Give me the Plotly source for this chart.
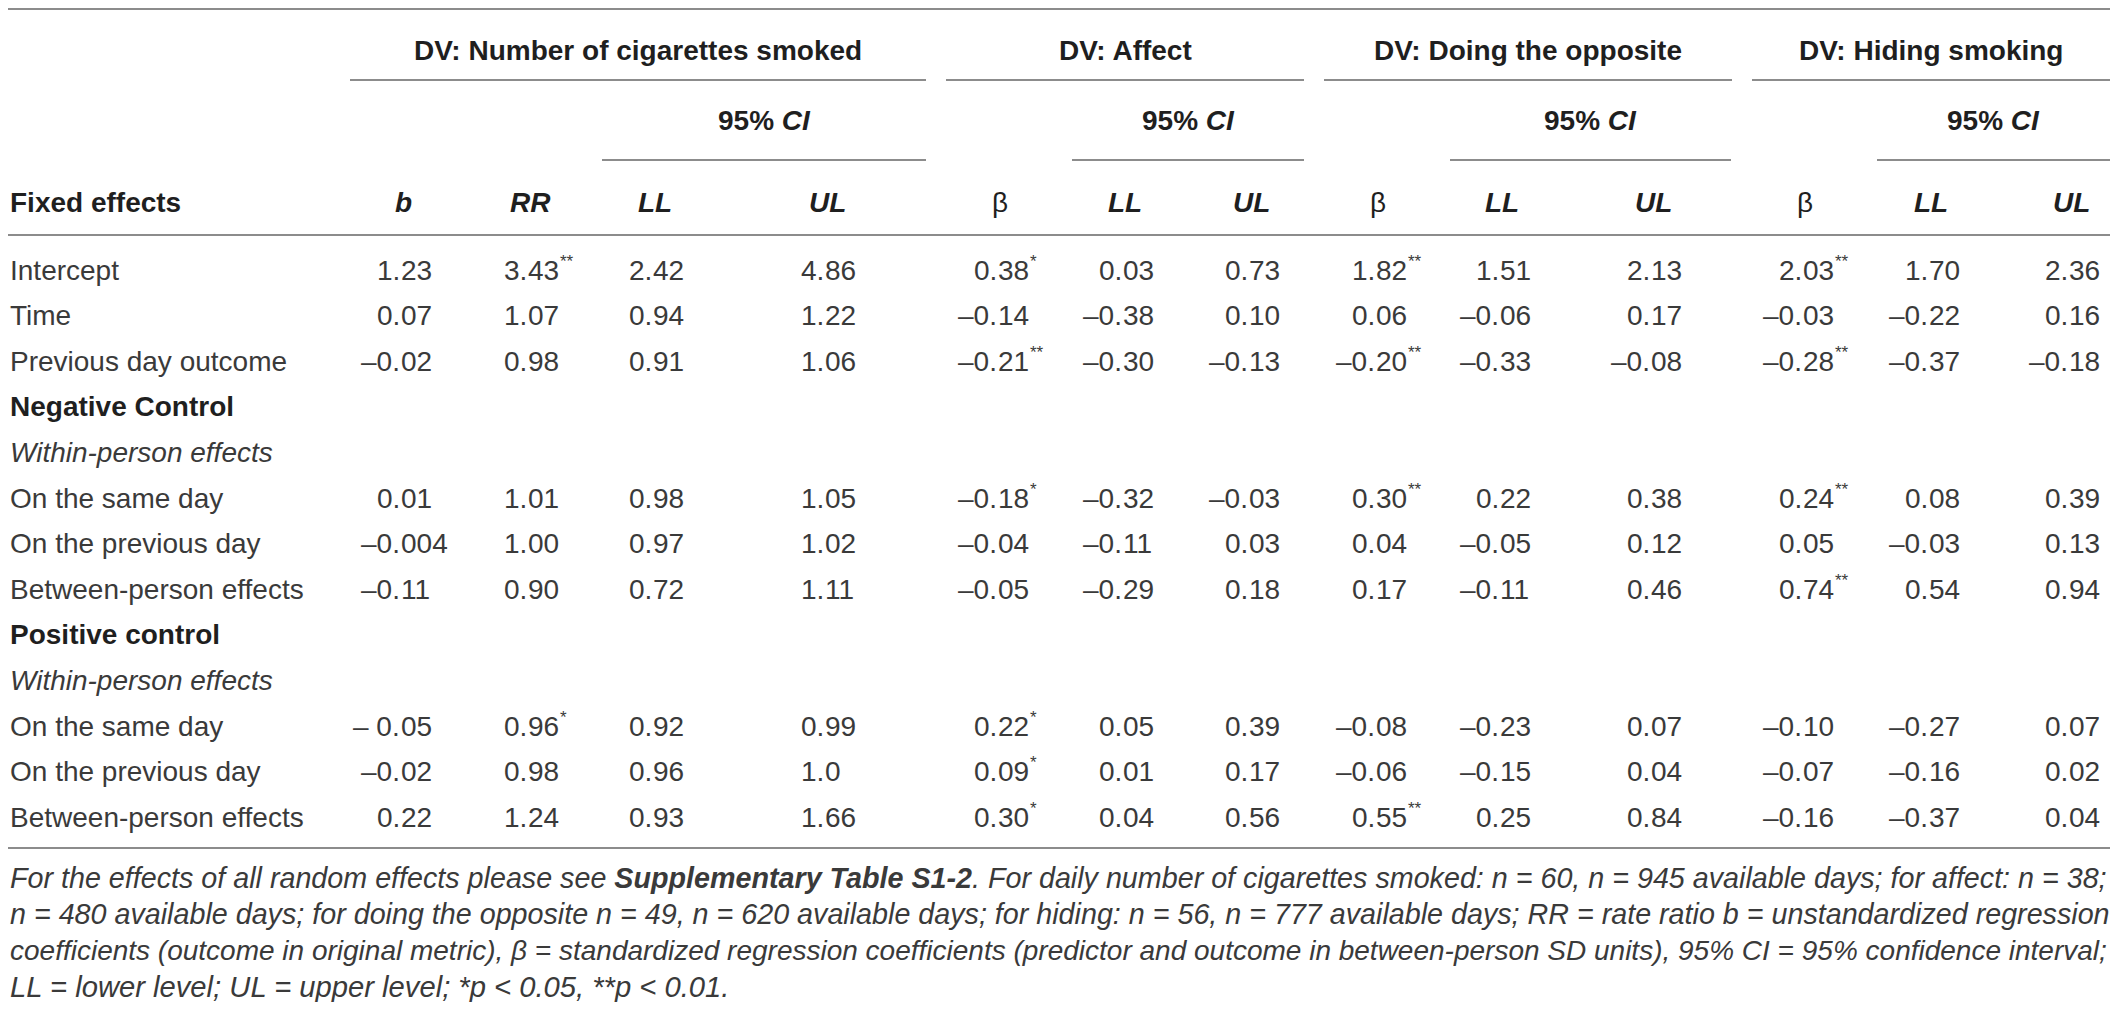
import plotly.graph_objects as go

# table content
dv_titles = ["DV: Number of cigarettes smoked", "DV: Affect",
             "DV: Doing the opposite", "DV: Hiding smoking"]
col_heads = ["b", "RR", "LL", "UL", "β", "LL", "UL", "β", "LL", "UL", "β", "LL", "UL"]
col_italic = [True, True, True, True, False, True, True, False, True, True, False, True, True]

row_labels = ["Intercept", "Time", "Previous day outcome",
              "Negative Control", "Within-person effects",
              "On the same day", "On the previous day", "Between-person effects",
              "Positive control", "Within-person effects",
              "On the same day", "On the previous day", "Between-person effects"]
row_styles = ["plain", "plain", "plain", "bold", "italic", "plain", "plain", "plain",
              "bold", "italic", "plain", "plain", "plain"]

_ = None
cig_b = ["1.23", "0.07", "–0.02", _, _, "0.01", "–0.004", "–0.11", _, _, "– 0.05", "–0.02", "0.22"]
cig_rr = ["3.43**", "1.07", "0.98", _, _, "1.01", "1.00", "0.90", _, _, "0.96*", "0.98", "1.24"]
cig_ll = ["2.42", "0.94", "0.91", _, _, "0.98", "0.97", "0.72", _, _, "0.92", "0.96", "0.93"]
cig_ul = ["4.86", "1.22", "1.06", _, _, "1.05", "1.02", "1.11", _, _, "0.99", "1.0", "1.66"]
aff_beta = ["0.38*", "–0.14", "–0.21**", _, _, "–0.18*", "–0.04", "–0.05", _, _, "0.22*", "0.09*", "0.30*"]
aff_ll = ["0.03", "–0.38", "–0.30", _, _, "–0.32", "–0.11", "–0.29", _, _, "0.05", "0.01", "0.04"]
aff_ul = ["0.73", "0.10", "–0.13", _, _, "–0.03", "0.03", "0.18", _, _, "0.39", "0.17", "0.56"]
opp_beta = ["1.82**", "0.06", "–0.20**", _, _, "0.30**", "0.04", "0.17", _, _, "–0.08", "–0.06", "0.55**"]
opp_ll = ["1.51", "–0.06", "–0.33", _, _, "0.22", "–0.05", "–0.11", _, _, "–0.23", "–0.15", "0.25"]
opp_ul = ["2.13", "0.17", "–0.08", _, _, "0.38", "0.12", "0.46", _, _, "0.07", "0.04", "0.84"]
hid_beta = ["2.03**", "–0.03", "–0.28**", _, _, "0.24**", "0.05", "0.74**", _, _, "–0.10", "–0.07", "–0.16"]
hid_ll = ["1.70", "–0.22", "–0.37", _, _, "0.08", "–0.03", "0.54", _, _, "–0.27", "–0.16", "–0.37"]
hid_ul = ["2.36", "0.16", "–0.18", _, _, "0.39", "0.13", "0.94", _, _, "0.07", "0.02", "0.04"]

columns = [cig_b, cig_rr, cig_ll, cig_ul, aff_beta, aff_ll, aff_ul,
           opp_beta, opp_ll, opp_ul, hid_beta, hid_ll, hid_ul]

notes = [
    "For the effects of all random effects please see <b>Supplementary Table S1-2</b>. "
    "For daily number of cigarettes smoked: n = 60, n = 945 available days; for affect: n = 38;",
    "n = 480 available days; for doing the opposite n = 49, n = 620 available days; "
    "for hiding: n = 56, n = 777 available days; RR = rate ratio b = unstandardized regression",
    "coefficients (outcome in original metric), β = standardized regression coefficients "
    "(predictor and outcome in between-person SD units), 95% CI = 95% confidence interval;",
    "LL = lower level; UL = upper level; *p < 0.05, **p < 0.01.",
]

# layout: axes map 1:1 onto page pixels (page body has an 8px margin)
PAGE_W, PAGE_H, BODY = 2118, 1010, 8
FONT = "Liberation Sans, Arial, sans-serif"
INK = "#3a3a3a"
BOLD_INK = "#1f1f1f"
RULE = "#8c8c8c"
SIZE = 28
DIGIT = 15.6
COL_END = [431, 558, 683, 855, 1028, 1153, 1279, 1406, 1530, 1681, 1833, 1959, 2099]
GROUP_SPAN = [(350, 926), (946, 1304), (1324, 1732), (1752, 2110)]
CI_SPAN = [(602, 926), (1072, 1304), (1450, 1731), (1877, 2110)]
X_LEFT, X_RIGHT, X_TEXT = 8, 2110, 9
Y_TOP, Y_DV, Y_DV_RULE, Y_CI, Y_CI_RULE = 9, 50, 80, 120, 160
Y_HEAD, Y_HEAD_RULE = 202, 235
Y_ROW0, ROW_STEP = 270, 45.6
Y_BOTTOM = 848
Y_NOTE0, NOTE_STEP = 878, 36.3
NOTE_SIZES = [28.7, 28.7, 28.0, 29.2]  # lines 1-3 are justified to the full width

fig = go.Figure(go.Scatter(x=[], y=[], hoverinfo="skip", showlegend=False))
ann = []
shapes = []


def text(x, y, s, anchor="left", size=SIZE, color=INK, yshift=0):
    ann.append(dict(x=x, y=y, text=s, xanchor=anchor, yanchor="middle",
                    showarrow=False, yshift=yshift, borderpad=0,
                    font=dict(family=FONT, size=size, color=color)))


def rule(x0, x1, y):
    shapes.append(dict(type="line", x0=x0, x1=x1, y0=y, y1=y,
                       line=dict(color=RULE, width=2)))


# header
rule(X_LEFT, X_RIGHT, Y_TOP)
for title, (g0, g1), (c0, c1) in zip(dv_titles, GROUP_SPAN, CI_SPAN):
    text((g0 + g1) / 2, Y_DV, f"<b>{title}</b>", "center", color=BOLD_INK)
    rule(g0, g1, Y_DV_RULE)
    text((c0 + c1) / 2, Y_CI, "<b>95% <i>CI</i></b>", "center", color=BOLD_INK)
    rule(c0, c1, Y_CI_RULE)

text(X_TEXT, Y_HEAD, "<b>Fixed effects</b>", color=BOLD_INK)
for head, ital, end in zip(col_heads, col_italic, COL_END):
    s = f"<b><i>{head}</i></b>" if ital else head
    text(end - 28, Y_HEAD, s, "center", color=BOLD_INK)
rule(X_LEFT, X_RIGHT, Y_HEAD_RULE)

# body, numbers aligned on the decimal point
for i, (label, style) in enumerate(zip(row_labels, row_styles)):
    y = Y_ROW0 + i * ROW_STEP
    if style == "bold":
        text(X_TEXT, y, f"<b>{label}</b>", color=BOLD_INK)
    elif style == "italic":
        text(X_TEXT, y, f"<i>{label}</i>")
    else:
        text(X_TEXT, y, label)
    for col, end in zip(columns, COL_END):
        cell = col[i]
        if cell is None:
            continue
        num = cell.rstrip("*")
        stars = cell[len(num):]
        whole, frac = num.split(".")
        dec = end - 2 * DIGIT
        text(dec + 1, y, whole + ".", "right")
        text(dec, y, frac, "left")
        if stars:
            text(dec + len(frac) * DIGIT + 1, y, stars, "left", size=17, yshift=9)
rule(X_LEFT, X_RIGHT, Y_BOTTOM)

# footnote
for k, (line, size) in enumerate(zip(notes, NOTE_SIZES)):
    text(X_TEXT, Y_NOTE0 + k * NOTE_STEP, f"<i>{line}</i>", size=size)

fig_w, fig_h = PAGE_W - 2 * BODY, PAGE_H - 2 * BODY
fig.update_layout(
    width=fig_w, height=fig_h,
    margin=dict(l=0, r=0, t=0, b=0),
    paper_bgcolor="white", plot_bgcolor="white",
    xaxis=dict(range=[BODY, BODY + fig_w], visible=False, fixedrange=True),
    yaxis=dict(range=[BODY + fig_h, BODY], visible=False, fixedrange=True),
    annotations=ann, shapes=shapes,
    showlegend=False,
)

fig.write_html("out.html")
